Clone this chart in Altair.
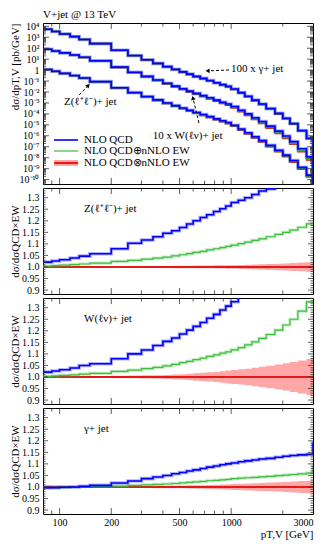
import altair as alt
import pandas as pd

# ---------------- data ----------------
edges = [80, 90, 100, 115, 130, 150, 200, 250, 300, 350, 400, 450, 500, 550, 600,
         660, 720, 790, 860, 930, 1000, 1100, 1200, 1320, 1450, 1600, 1800, 2000,
         2200, 2450, 2750, 3000, 3300]

# log10 of NLO QCD dsigma/dpT [pb/GeV] per bin (top panel, with the plotted scale factors)
gamma_x100_log = [3.73, 3.53, 3.30, 3.06, 2.80, 2.42, 1.81, 1.33, 0.94, 0.61, 0.32, 0.07,
                  -0.16, -0.37, -0.57, -0.76, -0.95, -1.15, -1.33, -1.49, -1.72, -2.06,
                  -2.39, -2.74, -3.09, -3.51, -3.95, -4.39, -4.88, -5.51, -6.22, -13.0]
w_x10_log = [1.91, 1.75, 1.57, 1.38, 1.17, 0.85, 0.27, -0.19, -0.57, -0.90, -1.20, -1.46,
             -1.70, -1.92, -2.13, -2.33, -2.53, -2.74, -2.93, -3.09, -3.33, -3.67, -4.00,
             -4.35, -4.70, -5.12, -5.57, -6.02, -6.53, -7.18, -7.91, -13.0]
z_log = [0.06, -0.11, -0.30, -0.50, -0.72, -1.05, -1.61, -2.05, -2.41, -2.72, -3.00, -3.24,
         -3.46, -3.67, -3.87, -4.06, -4.25, -4.45, -4.63, -4.79, -5.03, -5.38, -5.72, -6.08,
         -6.44, -6.87, -7.32, -7.76, -8.25, -8.88, -9.59, -13.0]

# ratios to NLO QCD x nNLO EW
z_qcd = [1.021, 1.026, 1.031, 1.039, 1.047, 1.057, 1.079, 1.103, 1.117, 1.131, 1.146, 1.157,
         1.171, 1.186, 1.200, 1.214, 1.226, 1.240, 1.252, 1.264, 1.279, 1.289, 1.300, 1.314,
         1.329, 1.338, 1.37, 1.40, 1.43, 1.47, 1.50, 1.50]
z_add = [1.004, 1.006, 1.008, 1.010, 1.013, 1.017, 1.024, 1.029, 1.034, 1.038, 1.043, 1.048,
         1.053, 1.058, 1.063, 1.068, 1.074, 1.079, 1.084, 1.089, 1.095, 1.101, 1.108, 1.115,
         1.122, 1.131, 1.141, 1.150, 1.160, 1.172, 1.187, 1.187]
z_unc = [0.003, 0.003, 0.003, 0.003, 0.003, 0.003, 0.003, 0.003, 0.004, 0.004, 0.004, 0.005,
         0.005, 0.005, 0.006, 0.006, 0.006, 0.007, 0.007, 0.008, 0.008, 0.009, 0.010, 0.011,
         0.012, 0.013, 0.014, 0.015, 0.017, 0.019, 0.021, 0.021]

w_qcd = [1.021, 1.026, 1.031, 1.039, 1.050, 1.057, 1.079, 1.100, 1.117, 1.136, 1.154, 1.169,
         1.186, 1.203, 1.219, 1.236, 1.254, 1.271, 1.290, 1.307, 1.326, 1.36, 1.40, 1.45,
         1.50, 1.56, 1.63, 1.70, 1.78, 1.88, 2.00, 2.00]
w_add = [1.003, 1.005, 1.007, 1.009, 1.012, 1.016, 1.024, 1.030, 1.036, 1.042, 1.048, 1.055,
         1.062, 1.068, 1.075, 1.082, 1.089, 1.096, 1.103, 1.109, 1.117, 1.127, 1.139, 1.152,
         1.167, 1.184, 1.203, 1.225, 1.250, 1.285, 1.325, 1.325]
w_unc = [0.002, 0.002, 0.002, 0.002, 0.003, 0.004, 0.005, 0.006, 0.007, 0.008, 0.009, 0.011,
         0.012, 0.014, 0.016, 0.018, 0.020, 0.022, 0.025, 0.028, 0.030, 0.033, 0.036, 0.040,
         0.044, 0.049, 0.054, 0.059, 0.065, 0.071, 0.078, 0.078]

g_qcd = [0.997, 0.997, 0.999, 1.000, 1.003, 1.007, 1.017, 1.026, 1.036, 1.043, 1.050, 1.057,
         1.063, 1.069, 1.074, 1.080, 1.086, 1.091, 1.096, 1.100, 1.104, 1.109, 1.113, 1.117,
         1.121, 1.124, 1.129, 1.133, 1.136, 1.139, 1.141, 1.19]
g_add = [0.997, 0.998, 0.999, 1.000, 1.001, 1.002, 1.004, 1.007, 1.009, 1.011, 1.013, 1.015,
         1.018, 1.020, 1.022, 1.024, 1.027, 1.029, 1.031, 1.033, 1.036, 1.038, 1.040, 1.042,
         1.044, 1.046, 1.049, 1.051, 1.054, 1.057, 1.060, 1.09]
g_unc = [0.007, 0.006, 0.005, 0.004, 0.004, 0.003, 0.003, 0.004, 0.004, 0.005, 0.005, 0.006,
         0.006, 0.007, 0.008, 0.008, 0.009, 0.010, 0.011, 0.012, 0.013, 0.014, 0.015, 0.016,
         0.017, 0.019, 0.020, 0.022, 0.024, 0.026, 0.027, 0.027]

x_labels = [100, 200, 500, 1000, 3000]
x_major = [100, 200, 500, 1000]
x_minor = [90, 300, 400, 600, 700, 800, 900, 2000]
legend_labels = ["NLO QCD", "NLO QCD\u2295nNLO EW", "NLO QCD\u2297nNLO EW"]

# ---------------- style ----------------
W = 270
H_TOP = 161
H_R = 106
BLUE = "#0000ff"
GREEN = "#3cbf3c"
RED = "#ff0000"
FONT = "Liberation Serif"
TICK = "#333333"

xs = alt.Scale(type="log", domain=[80, 3000], nice=False)
ys_top = alt.Scale(type="log", domain=[10 ** -10.4, 10 ** 4.3], nice=False)
ys_r = alt.Scale(domain=[0.883, 1.342], nice=False, zero=False)


def step_rows(vals, proc="p"):
    rows = []
    for i, e in enumerate(edges):
        v = vals[i] if i < len(vals) else vals[-1]
        rows.append({"x": e, "y": v, "proc": proc})
    return rows


def band_rows(center, unc, proc="p"):
    rows = []
    for i, e in enumerate(edges):
        j = min(i, len(center) - 1)
        rows.append({"x": e, "lo": center[j] * (1 - unc[j]), "hi": center[j] * (1 + unc[j]), "proc": proc})
    return rows


def frame_ticks(ys, H, y_major, y_minor, lmaj, lmin, xax, yax):
    layers = []
    for vals, L in [(x_major, 6), (x_minor, 3.5)]:
        base = alt.Chart(pd.DataFrame({"x": vals})).mark_rule(color=TICK, strokeWidth=0.8)
        layers.append(base.encode(x=alt.X("x:Q", scale=xs, axis=xax), y=alt.value(H), y2=alt.value(H - L)))
        layers.append(base.encode(x=alt.X("x:Q", scale=xs, axis=xax), y=alt.value(0), y2=alt.value(L)))
    for vals, L in [(y_major, lmaj), (y_minor, lmin)]:
        base = alt.Chart(pd.DataFrame({"y": vals})).mark_rule(color=TICK, strokeWidth=0.8)
        layers.append(base.encode(y=alt.Y("y:Q", scale=ys, axis=yax), x=alt.value(0), x2=alt.value(L)))
        layers.append(base.encode(y=alt.Y("y:Q", scale=ys, axis=yax), x=alt.value(W), x2=alt.value(W - L)))
    return layers


def line_layers(rows, ys, color, width, xax, yax, halo=True):
    df = pd.DataFrame(rows)
    out = []
    if halo:
        out.append(alt.Chart(df).mark_line(interpolate="step-after", clip=True, color=color,
                                            strokeWidth=width + 2, opacity=0.3)
                   .encode(x=alt.X("x:Q", scale=xs, axis=xax), y=alt.Y("y:Q", scale=ys, axis=yax),
                           detail="proc:N"))
    out.append(alt.Chart(df).mark_line(interpolate="step-after", clip=True, color=color, strokeWidth=width)
               .encode(x=alt.X("x:Q", scale=xs, axis=xax), y=alt.Y("y:Q", scale=ys, axis=yax),
                       detail="proc:N"))
    return out


# ---------------- top panel ----------------
sup = str.maketrans("0123456789-", "\u2070\u00b9\u00b2\u00b3\u2074\u2075\u2076\u2077\u2078\u2079\u207b")
dec = list(range(4, -11, -1))
labs = ["1" if n == 0 else "10" + str(n).translate(sup) for n in dec]
expr = ""
for n, lab in zip(dec[:-1], labs[:-1]):
    expr += f"datum.value > {10 ** (n - 0.5):.6g} ? '{lab}' : "
expr += f"'{labs[-1]}'"

top_y_axis = alt.Axis(values=[10.0 ** n for n in dec], labelExpr=expr, ticks=False, domain=False, grid=False,
                      labelFontSize=10, labelPadding=4, title="d\u03c3/dpT,V [pb/GeV]", titleFontSize=11,
                      titleFontWeight="normal", titleAngle=270, titleX=-34, titleY=0, titleAlign="right",
                      titleBaseline="top")
TX = None  # no x axis on the top panel

procs = [("g", gamma_x100_log, g_qcd, g_add, g_unc),
         ("w", w_x10_log, w_qcd, w_add, w_unc),
         ("z", z_log, z_qcd, z_add, z_unc)]
blue_r, green_r, red_r, band_r = [], [], [], []
for name, lg, qcd, add, unc in procs:
    blue = [10 ** v for v in lg]
    red = [b / q for b, q in zip(blue, qcd)]
    green = [r * a for r, a in zip(red, add)]
    blue_r += step_rows(blue, name)
    green_r += step_rows(green, name)
    red_r += step_rows(red, name)
    band_r += band_rows(red, unc, name)

top_layers = []
top_layers.append(alt.Chart(pd.DataFrame(band_r)).mark_area(interpolate="step-after", clip=True, color=RED,
                                                             opacity=0.35)
                  .encode(x=alt.X("x:Q", scale=xs, axis=TX), y=alt.Y("lo:Q", scale=ys_top, axis=top_y_axis),
                          y2="hi:Q", detail="proc:N"))
top_layers += line_layers(red_r, ys_top, RED, 1.5, TX, top_y_axis, halo=False)
top_layers += line_layers(green_r, ys_top, GREEN, 1.2, TX, top_y_axis)
top_layers += line_layers(blue_r, ys_top, BLUE, 1.6, TX, top_y_axis)

y_top_minor = [k * 10.0 ** n for n in range(-11, 5) for k in range(2, 10) if 10 ** -10.4 < k * 10.0 ** n < 10 ** 4.3]
top_layers += frame_ticks(ys_top, H_TOP, [10.0 ** n for n in dec], y_top_minor, 6, 3, TX, top_y_axis)

# annotations (data coordinates)
ann = pd.DataFrame({
    "x": [998, 349, 106],
    "y": [10 ** 0.07, 10 ** -6.02, 10 ** -2.89],
    "t": ["100 x \u03b3+ jet", "10 x W(\u2113\u03bd)+ jet", "Z(\u2113\u207a\u2113\u207b)+ jet"],
})
top_layers.append(alt.Chart(ann).mark_text(align="left", baseline="middle", fontSize=11, font=FONT, color="black")
                  .encode(x=alt.X("x:Q", scale=xs, axis=TX), y=alt.Y("y:Q", scale=ys_top, axis=top_y_axis),
                          text="t:N"))
arrows = pd.DataFrame({
    "x": [971, 649, 130], "y": [10 ** 0.01, 10 ** -4.83, 10 ** -2.27],
    "x2": [735, 600, 146], "y2": [10 ** -0.07, 10 ** -2.6, 10 ** -1.45],
    "ang": [270, 346.5, 45],
})
top_layers.append(alt.Chart(arrows).mark_rule(color="black", strokeWidth=1, strokeDash=[3, 2])
                  .encode(x=alt.X("x:Q", scale=xs, axis=TX), y=alt.Y("y:Q", scale=ys_top, axis=top_y_axis),
                          x2="x2:Q", y2="y2:Q"))
top_layers.append(alt.Chart(arrows).mark_point(shape="triangle", filled=True, color="black", size=22, opacity=1)
                  .encode(x=alt.X("x2:Q", scale=xs, axis=TX), y=alt.Y("y2:Q", scale=ys_top, axis=top_y_axis),
                          angle=alt.Angle("ang:Q", scale=None)))

# title and legend (layout, pixel positions)
one = pd.DataFrame({"a": [0]})
top_layers.append(alt.Chart(one).mark_text(text="V+jet @ 13 TeV", align="left", baseline="middle", fontSize=11,
                                           font=FONT, color="black")
                  .encode(x=alt.value(0), y=alt.value(-8)))
leg_y = [117, 128, 140]
top_layers.append(alt.Chart(one).mark_rule(color=BLUE, strokeWidth=1.6)
                  .encode(x=alt.value(11), x2=alt.value(35), y=alt.value(leg_y[0])))
top_layers.append(alt.Chart(one).mark_rule(color=GREEN, strokeWidth=1.2)
                  .encode(x=alt.value(11), x2=alt.value(35), y=alt.value(leg_y[1])))
top_layers.append(alt.Chart(one).mark_rect(color=RED, opacity=0.35)
                  .encode(x=alt.value(11), x2=alt.value(35), y=alt.value(leg_y[2] - 3), y2=alt.value(leg_y[2] + 3)))
top_layers.append(alt.Chart(one).mark_rule(color=RED, strokeWidth=1.8)
                  .encode(x=alt.value(11), x2=alt.value(35), y=alt.value(leg_y[2])))
for lab, yy in zip(legend_labels, leg_y):
    top_layers.append(alt.Chart(one).mark_text(text=lab, align="left", baseline="middle", fontSize=11, font=FONT,
                                               color="black")
                      .encode(x=alt.value(41), y=alt.value(yy)))

top = alt.layer(*top_layers).properties(width=W, height=H_TOP)

# ---------------- ratio panels ----------------
r_major = [round(0.9 + 0.05 * i, 2) for i in range(9)]
r_minor = [round(0.89 + 0.01 * i, 2) for i in range(46)]
r_minor = [v for v in r_minor if round(v * 100) % 5 != 0]


def ratio_panel(qcd, add, unc, label, bottom=False):
    yax = alt.Axis(values=r_major, labelExpr="abs(datum.value-1)<1e-6 ? '1.0' : format(datum.value, '.2~f')",
                   ticks=False, domain=False, grid=False, labelFontSize=10, labelPadding=4,
                   title="d\u03c3/d\u03c3QCD\u00d7EW", titleFontSize=11, titleFontWeight="normal",
                   titleAngle=270, titleX=-34, titleY=H_R / 2, titleAlign="center", titleBaseline="top")
    xax = None
    if bottom:
        xax = alt.Axis(values=x_labels, format="d", ticks=False, domain=False, grid=False, labelFlush=True,
                       labelFontSize=10, labelPadding=3, title="pT,V [GeV]", titleFontSize=11,
                       titleFontWeight="normal", titleAnchor="end", titlePadding=1)
    L = []
    L.append(alt.Chart(pd.DataFrame(band_rows([1.0] * len(unc), unc)))
             .mark_area(interpolate="step-after", clip=True, color=RED, opacity=0.35)
             .encode(x=alt.X("x:Q", scale=xs, axis=xax), y=alt.Y("lo:Q", scale=ys_r, axis=yax), y2="hi:Q"))
    L.append(alt.Chart(pd.DataFrame({"y": [1.0]})).mark_rule(color="black", strokeWidth=0.8)
             .encode(y=alt.Y("y:Q", scale=ys_r, axis=yax), x=alt.value(0), x2=alt.value(W)))
    L += line_layers(step_rows([1.0] * len(unc)), ys_r, RED, 1.5, xax, yax, halo=False)
    L += line_layers(step_rows(add), ys_r, GREEN, 1.2, xax, yax)
    L += line_layers(step_rows(qcd), ys_r, BLUE, 1.6, xax, yax)
    L += frame_ticks(ys_r, H_R, r_major, r_minor, 5, 2.5, xax, yax)
    L.append(alt.Chart(one).mark_text(text=label, align="left", baseline="middle", fontSize=11, font=FONT,
                                      color="black")
             .encode(x=alt.value(41), y=alt.value(21)))
    return alt.layer(*L).properties(width=W, height=H_R)


pz = ratio_panel(z_qcd, z_add, z_unc, "Z(\u2113\u207a\u2113\u207b)+ jet")
pw = ratio_panel(w_qcd, w_add, w_unc, "W(\u2113\u03bd)+ jet")
pg = ratio_panel(g_qcd, g_add, g_unc, "\u03b3+ jet", bottom=True)

chart = (alt.vconcat(top, pz, pw, pg, spacing=1)
         .properties(padding=0)
         .configure_view(stroke="black", strokeWidth=1)
         .configure_axis(labelFont=FONT, titleFont=FONT, labelColor="black", titleColor="black")
         .configure_text(font=FONT))

chart.save("out.html", embed_options={"renderer": "svg", "actions": False})
